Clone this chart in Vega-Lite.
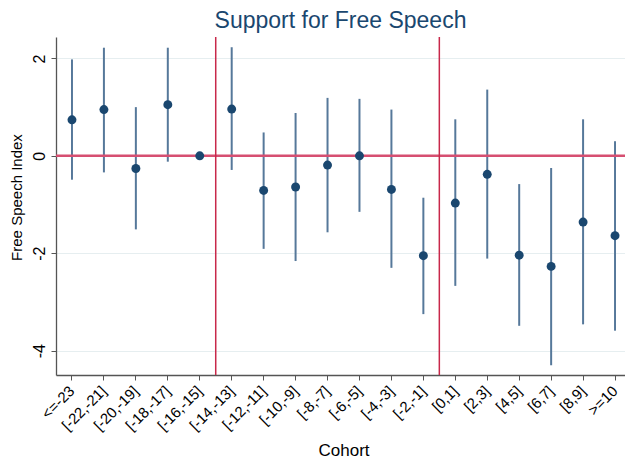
{
  "$schema": "https://vega.github.io/schema/vega-lite/v6.json",
  "width": 569,
  "height": 338,
  "autosize": {"type": "none"},
  "padding": {"left": 56, "top": 37, "right": 0, "bottom": 87},
  "background": "white",
  "title": {"text": "Support for Free Speech", "font": "Liberation Sans", "fontSize": 23, "fontWeight": "normal", "color": "#1a476f", "anchor": "middle", "offset": 3},
  "config": {"view": {"stroke": null}, "font": "Liberation Sans"},
  "datasets": {
    "est": [
      {"cohort": "<=-23", "est": 0.74, "lo": -0.49, "hi": 1.98},
      {"cohort": "[-22,-21]", "est": 0.95, "lo": -0.34, "hi": 2.22},
      {"cohort": "[-20,-19]", "est": -0.26, "lo": -1.51, "hi": 1.0},
      {"cohort": "[-18,-17]", "est": 1.05, "lo": -0.12, "hi": 2.22},
      {"cohort": "[-16,-15]", "est": 0.0, "lo": null, "hi": null},
      {"cohort": "[-14,-13]", "est": 0.96, "lo": -0.29, "hi": 2.23},
      {"cohort": "[-12,-11]", "est": -0.71, "lo": -1.91, "hi": 0.48},
      {"cohort": "[-10,-9]", "est": -0.64, "lo": -2.16, "hi": 0.88},
      {"cohort": "[-8,-7]", "est": -0.19, "lo": -1.57, "hi": 1.19},
      {"cohort": "[-6,-5]", "est": 0.0, "lo": -1.15, "hi": 1.17},
      {"cohort": "[-4,-3]", "est": -0.69, "lo": -2.3, "hi": 0.95},
      {"cohort": "[-2,-1]", "est": -2.05, "lo": -3.25, "hi": -0.86},
      {"cohort": "[0,1]", "est": -0.97, "lo": -2.67, "hi": 0.75},
      {"cohort": "[2,3]", "est": -0.38, "lo": -2.11, "hi": 1.36},
      {"cohort": "[4,5]", "est": -2.04, "lo": -3.49, "hi": -0.58},
      {"cohort": "[6,7]", "est": -2.27, "lo": -4.3, "hi": -0.25},
      {"cohort": "[8,9]", "est": -1.36, "lo": -3.46, "hi": 0.75},
      {"cohort": ">=10", "est": -1.64, "lo": -3.59, "hi": 0.3}
    ],
    "vlines": [{"cohort": "[-14,-13]"}, {"cohort": "[0,1]"}],
    "hline": [{"ref": 0}]
  },
  "layer": [
    {
      "data": {"name": "est"},
      "mark": {"type": "rule", "color": "#56789a", "strokeWidth": 2},
      "encoding": {
        "x": {
          "field": "cohort", "type": "nominal", "sort": null,
          "scale": {"type": "band", "domain": ["<=-23", "[-22,-21]", "[-20,-19]", "[-18,-17]", "[-16,-15]", "[-14,-13]", "[-12,-11]", "[-10,-9]", "[-8,-7]", "[-6,-5]", "[-4,-3]", "[-2,-1]", "[0,1]", "[2,3]", "[4,5]", "[6,7]", "[8,9]", ">=10"], "range": [0, 575], "paddingInner": 0, "paddingOuter": 0},
          "axis": {"title": "Cohort", "titleFontSize": 17, "titleFontWeight": "normal", "titleColor": "#000000", "titlePadding": 9, "labelAngle": -45, "labelAlign": "right", "labelBaseline": "middle", "labelFontSize": 15, "labelColor": "#000000", "labelPadding": 8, "labelDx": -3, "tickSize": 5, "tickColor": "#555555", "domainColor": "#555555", "domainWidth": 1.3, "grid": false}
        },
        "y": {
          "field": "lo", "type": "quantitative",
          "scale": {"domain": [-4.5, 2.44], "nice": false, "zero": false},
          "axis": {"title": "Free Speech Index", "titleFontSize": 15, "titleFontWeight": "normal", "titleColor": "#000000", "titlePadding": 7, "titleY": 160, "values": [-4, -2, 0, 2], "labelExpr": "'' + datum.value", "labelAngle": 270, "labelAlign": "center", "labelBaseline": "bottom", "labelFontSize": 16, "labelColor": "#000000", "labelPadding": 4, "tickSize": 5, "tickColor": "#555555", "domainColor": "#555555", "domainWidth": 1.3, "grid": true, "gridColor": "#e6eef0", "gridWidth": 1.2}
        },
        "y2": {"field": "hi"}
      }
    },
    {
      "data": {"name": "hline"},
      "mark": {"type": "rule", "color": "#d64f71", "strokeWidth": 2.5},
      "encoding": {"y": {"field": "ref", "type": "quantitative"}}
    },
    {
      "data": {"name": "vlines"},
      "mark": {"type": "rule", "color": "#c8284a", "strokeWidth": 1.5},
      "encoding": {"x": {"field": "cohort", "type": "nominal", "bandPosition": 0}}
    },
    {
      "data": {"name": "est"},
      "mark": {"type": "point", "filled": true, "color": "#1a476f", "size": 80, "opacity": 1},
      "encoding": {
        "x": {"field": "cohort", "type": "nominal"},
        "y": {"field": "est", "type": "quantitative"}
      }
    }
  ]
}
